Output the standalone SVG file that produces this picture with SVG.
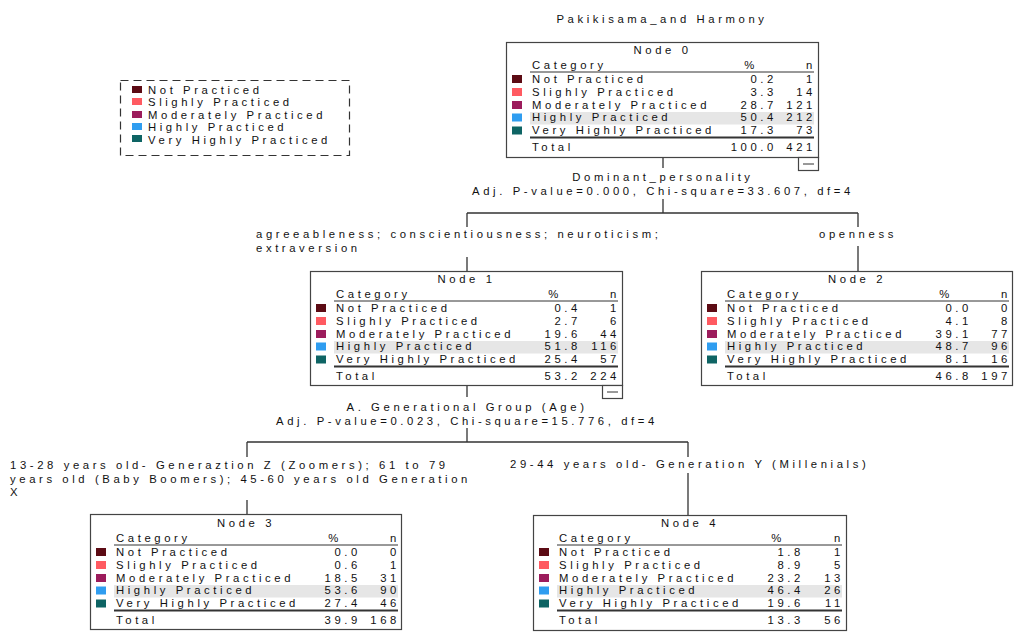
<svg xmlns="http://www.w3.org/2000/svg" width="1019" height="642" viewBox="0 0 1019 642">
<style>
text{font-family:"Liberation Sans",Arial,sans-serif;font-size:11.3px;letter-spacing:3.6px;fill:#111}
.m{text-anchor:middle}
.e{text-anchor:end}
.box{fill:#fff;stroke:#444;stroke-width:1.2}
.hl{fill:#e6e6e6}
.ul{stroke:#333;stroke-width:1}
.dl{stroke:#333;stroke-width:2}
.c{fill:none;stroke:#333;stroke-width:1.3}
.s1{fill:#5c0b14}.s2{fill:#ff5a61}.s3{fill:#9c1c5c}.s4{fill:#2f9df0}.s5{fill:#0e6464}
.mn{fill:#fff;stroke:#444;stroke-width:1.2}
</style>
<rect width="1019" height="642" fill="#fff"/>
<text x="662" y="23" class="m">Pakikisama_and Harmony</text>

<g id="legend">
<rect x="120.5" y="80.5" width="229" height="75" fill="none" stroke="#333" stroke-width="1.2" stroke-dasharray="8,5"/>
<rect x="132" y="86" width="10" height="7" class="s1"/><text x="148" y="94">Not Practiced</text>
<rect x="132" y="98" width="10" height="7" class="s2"/><text x="148" y="106">Slighly Practiced</text>
<rect x="132" y="111" width="10" height="7" class="s3"/><text x="148" y="118.5">Moderately Practiced</text>
<rect x="132" y="123" width="10" height="7" class="s4"/><text x="148" y="131">Highly Practiced</text>
<rect x="132" y="135" width="10" height="7" class="s5"/><text x="148" y="143.5">Very Highly Practiced</text>
</g>

<g id="connectors">
<path class="c" d="M663 157V168M663 199V213M467 213H858M467 213V227M467 257V271M858 213V227M858 246V271"/>
<path class="c" d="M467 385V397M467 428V442M247 442H688M247 442V457M247 500V514M688 442V457M688 473V515"/>
<text x="663" y="181" class="m">Dominant_personality</text>
<text x="663" y="195" class="m">Adj. P-value=0.000, Chi-square=33.607, df=4</text>
<text x="256" y="238">agreeableness; conscientiousness; neuroticism;</text>
<text x="256" y="252">extraversion</text>
<text x="858" y="238" class="m">openness</text>
<text x="467" y="411" class="m">A. Generational Group (Age)</text>
<text x="467" y="425" class="m">Adj. P-value=0.023, Chi-square=15.776, df=4</text>
<text x="10" y="469">13-28 years old- Generaztion Z (Zoomers); 61 to 79</text>
<text x="10" y="482.5">years old (Baby Boomers); 45-60 years old Generation</text>
<text x="10" y="496">X</text>
<text x="510" y="468">29-44 years old- Generation Y (Millenials)</text>
</g>

<g id="node0" transform="translate(506,42)">
<rect class="box" x="0.5" y="0.5" width="312" height="115"/>
<text x="156.5" y="12" class="m">Node 0</text>
<text x="26" y="26.5">Category</text><text x="245" y="26.5" class="m">%</text><text x="310" y="26.5" class="e">n</text>
<line class="ul" x1="24" y1="30" x2="308" y2="30"/>
<rect class="hl" x="24" y="70" width="284" height="12.5"/>
<rect class="s1" x="6" y="33" width="10" height="8"/><text x="26" y="41">Not Practiced</text><text x="271" y="41" class="e">0.2</text><text x="310" y="41" class="e">1</text>
<rect class="s2" x="6" y="46" width="10" height="8"/><text x="26" y="53.8">Slighly Practiced</text><text x="271" y="53.8" class="e">3.3</text><text x="310" y="53.8" class="e">14</text>
<rect class="s3" x="6" y="59" width="10" height="8"/><text x="26" y="66.6">Moderately Practiced</text><text x="271" y="66.6" class="e">28.7</text><text x="310" y="66.6" class="e">121</text>
<rect class="s4" x="6" y="71.5" width="10" height="8"/><text x="26" y="79.4">Highly Practiced</text><text x="271" y="79.4" class="e">50.4</text><text x="310" y="79.4" class="e">212</text>
<rect class="s5" x="6" y="84.5" width="10" height="8"/><text x="26" y="92.2">Very Highly Practiced</text><text x="271" y="92.2" class="e">17.3</text><text x="310" y="92.2" class="e">73</text>
<line class="dl" x1="24" y1="95.5" x2="308" y2="95.5"/>
<text x="26" y="108.5">Total</text><text x="271" y="108.5" class="e">100.0</text><text x="310" y="108.5" class="e">421</text>
<rect class="mn" x="292.5" y="115.5" width="20" height="13"/><line class="ul" x1="297" y1="122" x2="308" y2="122"/>
</g>

<g id="node1" transform="translate(310,271)">
<rect class="box" x="0.5" y="0.5" width="312" height="114"/>
<text x="156.5" y="12" class="m">Node 1</text>
<text x="26" y="26.5">Category</text><text x="245" y="26.5" class="m">%</text><text x="310" y="26.5" class="e">n</text>
<line class="ul" x1="24" y1="30" x2="308" y2="30"/>
<rect class="hl" x="24" y="70" width="284" height="12.5"/>
<rect class="s1" x="6" y="33" width="10" height="8"/><text x="26" y="41">Not Practiced</text><text x="271" y="41" class="e">0.4</text><text x="310" y="41" class="e">1</text>
<rect class="s2" x="6" y="46" width="10" height="8"/><text x="26" y="53.8">Slighly Practiced</text><text x="271" y="53.8" class="e">2.7</text><text x="310" y="53.8" class="e">6</text>
<rect class="s3" x="6" y="59" width="10" height="8"/><text x="26" y="66.6">Moderately Practiced</text><text x="271" y="66.6" class="e">19.6</text><text x="310" y="66.6" class="e">44</text>
<rect class="s4" x="6" y="71.5" width="10" height="8"/><text x="26" y="79.4">Highly Practiced</text><text x="271" y="79.4" class="e">51.8</text><text x="310" y="79.4" class="e">116</text>
<rect class="s5" x="6" y="84.5" width="10" height="8"/><text x="26" y="92.2">Very Highly Practiced</text><text x="271" y="92.2" class="e">25.4</text><text x="310" y="92.2" class="e">57</text>
<line class="dl" x1="24" y1="95.5" x2="308" y2="95.5"/>
<text x="26" y="108.5">Total</text><text x="271" y="108.5" class="e">53.2</text><text x="310" y="108.5" class="e">224</text>
<rect class="mn" x="292.5" y="114.5" width="20" height="13"/><line class="ul" x1="297" y1="121" x2="308" y2="121"/>
</g>

<g id="node2" transform="translate(701,271)">
<rect class="box" x="0.5" y="0.5" width="311" height="114"/>
<text x="156" y="12" class="m">Node 2</text>
<text x="26" y="26.5">Category</text><text x="245" y="26.5" class="m">%</text><text x="310" y="26.5" class="e">n</text>
<line class="ul" x1="24" y1="30" x2="308" y2="30"/>
<rect class="hl" x="24" y="70" width="284" height="12.5"/>
<rect class="s1" x="6" y="33" width="10" height="8"/><text x="26" y="41">Not Practiced</text><text x="271" y="41" class="e">0.0</text><text x="310" y="41" class="e">0</text>
<rect class="s2" x="6" y="46" width="10" height="8"/><text x="26" y="53.8">Slighly Practiced</text><text x="271" y="53.8" class="e">4.1</text><text x="310" y="53.8" class="e">8</text>
<rect class="s3" x="6" y="59" width="10" height="8"/><text x="26" y="66.6">Moderately Practiced</text><text x="271" y="66.6" class="e">39.1</text><text x="310" y="66.6" class="e">77</text>
<rect class="s4" x="6" y="71.5" width="10" height="8"/><text x="26" y="79.4">Highly Practiced</text><text x="271" y="79.4" class="e">48.7</text><text x="310" y="79.4" class="e">96</text>
<rect class="s5" x="6" y="84.5" width="10" height="8"/><text x="26" y="92.2">Very Highly Practiced</text><text x="271" y="92.2" class="e">8.1</text><text x="310" y="92.2" class="e">16</text>
<line class="dl" x1="24" y1="95.5" x2="308" y2="95.5"/>
<text x="26" y="108.5">Total</text><text x="271" y="108.5" class="e">46.8</text><text x="310" y="108.5" class="e">197</text>
</g>

<g id="node3" transform="translate(90,514)">
<rect class="box" x="0.5" y="0.5" width="311" height="115"/>
<text x="156" y="13" class="m">Node 3</text>
<text x="26" y="27.5">Category</text><text x="245" y="27.5" class="m">%</text><text x="310" y="27.5" class="e">n</text>
<line class="ul" x1="24" y1="31" x2="308" y2="31"/>
<rect class="hl" x="24" y="71" width="284" height="12.5"/>
<rect class="s1" x="6" y="34" width="10" height="8"/><text x="26" y="42">Not Practiced</text><text x="271" y="42" class="e">0.0</text><text x="310" y="42" class="e">0</text>
<rect class="s2" x="6" y="47" width="10" height="8"/><text x="26" y="54.8">Slighly Practiced</text><text x="271" y="54.8" class="e">0.6</text><text x="310" y="54.8" class="e">1</text>
<rect class="s3" x="6" y="60" width="10" height="8"/><text x="26" y="67.6">Moderately Practiced</text><text x="271" y="67.6" class="e">18.5</text><text x="310" y="67.6" class="e">31</text>
<rect class="s4" x="6" y="72.5" width="10" height="8"/><text x="26" y="80.4">Highly Practiced</text><text x="271" y="80.4" class="e">53.6</text><text x="310" y="80.4" class="e">90</text>
<rect class="s5" x="6" y="85.5" width="10" height="8"/><text x="26" y="93.2">Very Highly Practiced</text><text x="271" y="93.2" class="e">27.4</text><text x="310" y="93.2" class="e">46</text>
<line class="dl" x1="24" y1="96.5" x2="308" y2="96.5"/>
<text x="26" y="109.5">Total</text><text x="271" y="109.5" class="e">39.9</text><text x="310" y="109.5" class="e">168</text>
</g>

<g id="node4" transform="translate(533,515)">
<rect class="box" x="0.5" y="0.5" width="313" height="115"/>
<text x="157" y="12" class="m">Node 4</text>
<text x="26" y="26.5">Category</text><text x="245" y="26.5" class="m">%</text><text x="311" y="26.5" class="e">n</text>
<line class="ul" x1="24" y1="30" x2="309" y2="30"/>
<rect class="hl" x="24" y="70" width="285" height="12.5"/>
<rect class="s1" x="6" y="33" width="10" height="8"/><text x="26" y="41">Not Practiced</text><text x="271" y="41" class="e">1.8</text><text x="311" y="41" class="e">1</text>
<rect class="s2" x="6" y="46" width="10" height="8"/><text x="26" y="53.8">Slighly Practiced</text><text x="271" y="53.8" class="e">8.9</text><text x="311" y="53.8" class="e">5</text>
<rect class="s3" x="6" y="59" width="10" height="8"/><text x="26" y="66.6">Moderately Practiced</text><text x="271" y="66.6" class="e">23.2</text><text x="311" y="66.6" class="e">13</text>
<rect class="s4" x="6" y="71.5" width="10" height="8"/><text x="26" y="79.4">Highly Practiced</text><text x="271" y="79.4" class="e">46.4</text><text x="311" y="79.4" class="e">26</text>
<rect class="s5" x="6" y="84.5" width="10" height="8"/><text x="26" y="92.2">Very Highly Practiced</text><text x="271" y="92.2" class="e">19.6</text><text x="311" y="92.2" class="e">11</text>
<line class="dl" x1="24" y1="95.5" x2="309" y2="95.5"/>
<text x="26" y="108.5">Total</text><text x="271" y="108.5" class="e">13.3</text><text x="311" y="108.5" class="e">56</text>
</g>
</svg>
